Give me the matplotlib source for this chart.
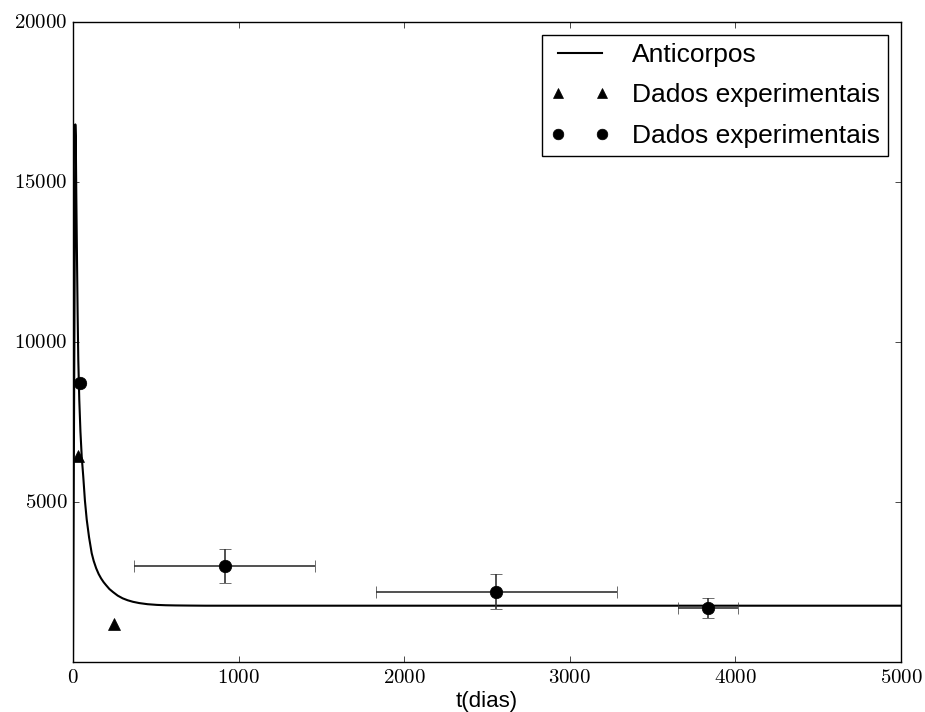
import matplotlib
matplotlib.use("Agg")
import matplotlib.pyplot as plt
from matplotlib.ticker import FuncFormatter

plt.style.use("classic")
plt.rcParams["font.family"] = ["Liberation Sans", "DejaVu Sans"]
plt.rcParams["mathtext.fontset"] = "cm"

# Model curve: antibody level over time (days)
curve_t = [0, 14, 17, 20, 24, 28, 32, 38, 45, 53, 62, 72, 83, 97, 113, 125, 140,
           155, 170, 185, 200, 220, 242, 270, 300, 330, 362, 400, 450, 507, 560,
           620, 700, 800, 1000, 2000, 3000, 4000, 5000]
curve_v = [0, 16800, 16300, 14600, 12700, 10900, 9450, 8200, 7200, 6400, 5800,
           5050, 4450, 3900, 3400, 3160, 2930, 2750, 2610, 2495, 2400, 2280,
           2185, 2075, 1990, 1930, 1882, 1842, 1807, 1785, 1774, 1768, 1764,
           1760, 1760, 1760, 1760, 1760, 1760]

# Experimental data set 1 (triangles)
tri_t = [28, 250]
tri_v = [6450, 1200]

# Experimental data set 2 (circles, with error bars)
circ_t = [42, 915, 2557, 3835]
circ_v = [8730, 3000, 2200, 1680]
circ_xerr = [0, 547, 728, 180]
circ_yerr = [0, 530, 540, 320]

fig = plt.figure(figsize=(9.25, 7.12), dpi=100, facecolor="white")
ax = fig.add_axes([0.0789, 0.0702, 0.8952, 0.8989])

ax.plot(curve_t, curve_v, color="black", lw=1.5, label="Anticorpos")
ax.plot(tri_t, tri_v, "^", color="black", markersize=8, label="Dados experimentais")
ax.errorbar(circ_t, circ_v, xerr=circ_xerr, yerr=circ_yerr, fmt="none",
            ecolor="#333333", elinewidth=1.2, capsize=4)
ax.plot(circ_t, circ_v, "o", color="black", markersize=9,
        label="Dados experimentais")

ax.set_xlim(0, 5000)
ax.set_ylim(0, 20000)
ax.set_xticks([0, 1000, 2000, 3000, 4000, 5000])
ax.set_yticks([5000, 10000, 15000, 20000])
fmt = FuncFormatter(lambda v, p: r"$%d$" % v)
ax.xaxis.set_major_formatter(fmt)
ax.yaxis.set_major_formatter(fmt)
ax.tick_params(labelsize=15)
ax.set_xlabel("t(dias)", fontsize=16, labelpad=3)

leg = ax.legend(loc="upper right", numpoints=2, fontsize=19, frameon=True,
                borderpad=0.3, handlelength=2.25, labelspacing=0.62,
                handletextpad=0.85, markerscale=0.85, borderaxespad=0.5)
leg.get_frame().set_edgecolor("black")

fig.savefig("out.png", dpi=100, facecolor="white")
